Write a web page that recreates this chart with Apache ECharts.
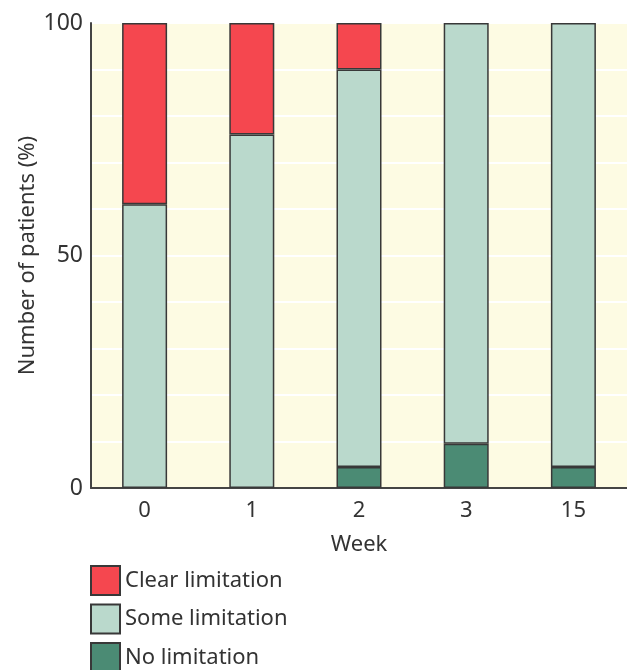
<!DOCTYPE html>
<html><head><meta charset="utf-8">
<script src="https://cdn.jsdelivr.net/npm/echarts@6/dist/echarts.min.js"></script>
<style>html,body{margin:0;padding:0;background:#fff}#c{width:627px;height:670px}</style>
</head><body><div id="c"></div>
<script>
const weeks = ['0', '1', '2', '3', '15'];
const noLimitation = [0, 0, 4.5, 9.5, 4.5];
const someLimitation = [61, 76, 85.5, 90.5, 95.5];
const clearLimitation = [39, 24, 10, 0, 0];
const yTickLabels = [0, 50, 100];
const legendNames = ['Clear limitation', 'Some limitation', 'No limitation'];

const font = 'Noto Sans';
const border = { borderColor: '#383838', borderWidth: 1.5 };
const skipZero = arr => arr.map(v => v === 0 ? '-' : v);
const chart = echarts.init(document.getElementById('c'));
chart.setOption({
  animation: false,
  textStyle: { fontFamily: font },
  grid: { left: 91, top: 23, width: 539, height: 465, show: true, backgroundColor: '#fdfbe3', borderWidth: 0 },
  legend: legendNames.map((n, i) => ({
    orient: 'vertical', left: 90, top: 565 + i * 38.5, padding: 0,
    itemWidth: 29, itemHeight: 29,
    icon: 'rect',
    textStyle: { fontSize: 22, color: '#333', fontFamily: font },
    data: [n]
  })),
  xAxis: {
    type: 'category', data: weeks,
    name: 'Week', nameLocation: 'middle', nameGap: 46,
    nameTextStyle: { fontSize: 22, color: '#333' },
    axisLine: { lineStyle: { color: '#444', width: 2 } },
    axisTick: { show: false },
    axisLabel: { fontSize: 22, color: '#333', margin: 12 }
  },
  yAxis: {
    type: 'value', min: 0, max: 100, interval: 10,
    name: 'Number of patients (%)', nameLocation: 'middle', nameGap: 52,
    nameMoveOverlap: false,
    nameTextStyle: { fontSize: 22, color: '#333' },
    axisLine: { show: true, lineStyle: { color: '#444', width: 2 } },
    axisTick: { show: false },
    axisLabel: { fontSize: 23, color: '#333', margin: 8,
      formatter: v => yTickLabels.includes(v) ? String(v) : '' },
    splitLine: { show: true, lineStyle: { color: '#ffffff', width: 2 } }
  },
  series: [
    { name: 'No limitation', type: 'bar', stack: 't', barWidth: 45, data: skipZero(noLimitation),
      itemStyle: Object.assign({ color: '#4b8b74' }, border) },
    { name: 'Some limitation', type: 'bar', stack: 't', barWidth: 45, data: skipZero(someLimitation),
      itemStyle: Object.assign({ color: '#bad9cc' }, border) },
    { name: 'Clear limitation', type: 'bar', stack: 't', barWidth: 45, data: skipZero(clearLimitation),
      itemStyle: Object.assign({ color: '#f5474f' }, border) }
  ]
});
</script></body></html>
